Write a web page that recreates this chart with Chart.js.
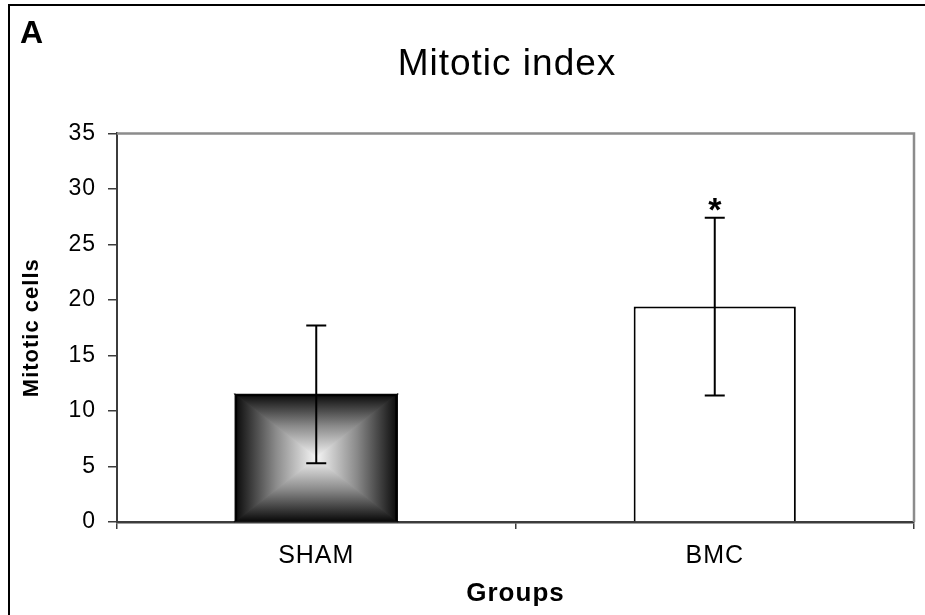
<!DOCTYPE html>
<html>
<head>
<meta charset="utf-8">
<script src="https://cdn.jsdelivr.net/npm/chart.js@4"></script>
<style>
  html, body { margin: 0; padding: 0; background: #fff; }
  #wrap { width: 925px; height: 615px; }
</style>
</head>
<body>
<div id="wrap"><canvas id="chart"></canvas></div>
<script>
// data
const groups = ['SHAM', 'BMC'];
const mitoticMeans = [11.5, 19.4];
const mitoticErrors = [6.2, 8.0];
const significance = ['', '*'];
const yMin = 0, yMax = 35, yStep = 5;

// spacing the text a bit, the original is drawn wide
function spacing(chart) {
    chart.ctx.letterSpacing = '1px';
}

const framePlugin = {
    id: 'frame',
    beforeLayout(chart) { spacing(chart); },
    beforeDraw(chart) {
        spacing(chart);
        let ctx = chart.ctx;
        ctx.save();
        ctx.fillStyle = '#fff';
        ctx.fillRect(0, 0, chart.width, chart.height);
        // outer frame (only left and top are in the picture)
        ctx.strokeStyle = '#000';
        ctx.lineWidth = 2;
        ctx.beginPath();
        ctx.moveTo(9, chart.height);
        ctx.lineTo(9, 5);
        ctx.lineTo(chart.width, 5);
        ctx.stroke();
        // panel letter
        ctx.fillStyle = '#000';
        ctx.font = 'bold 32px "Liberation Sans", Arial, sans-serif';
        ctx.textBaseline = 'alphabetic';
        ctx.letterSpacing = '0px';
        ctx.fillText('A', 20, 43);
        ctx.restore();
    },
    afterLayout(chart) {
        // title is centred over the plot, not over the whole canvas
        chart.titleBlock.left = 100;
        chart.titleBlock.right = chart.chartArea.right;
    },
    beforeDatasetsDraw(chart) {
        let ctx = chart.ctx;
        let area = chart.chartArea;
        ctx.save();
        // plot area border top/right
        ctx.strokeStyle = '#8c8c8c';
        ctx.lineWidth = 2.5;
        ctx.beginPath();
        ctx.moveTo(area.left, area.top);
        ctx.lineTo(area.right, area.top);
        ctx.lineTo(area.right, area.bottom);
        ctx.stroke();

        // SHAM bar: rectangular "from centre" gradient, 4 triangles
        let bar = chart.getDatasetMeta(0).data[0];
        let p = bar.getProps(['x', 'y', 'base', 'width'], true);
        let l = p.x - p.width / 2, r = p.x + p.width / 2, t = p.y, b = p.base;
        let cx = (l + r) / 2, cy = (t + b) / 2;
        let tris = [
            [[l, t], [r, t], l, t, l, cy],
            [[l, b], [r, b], l, b, l, cy],
            [[l, t], [l, b], l, t, cx, t],
            [[r, t], [r, b], r, t, cx, t]
        ];
        for (let tr of tris) {
            let g = ctx.createLinearGradient(tr[2], tr[3], tr[4], tr[5]);
            g.addColorStop(0, '#0a0a0a');
            g.addColorStop(0.5, '#8a8a8a');
            g.addColorStop(1, '#f6f6f6');
            ctx.fillStyle = g;
            ctx.strokeStyle = g;
            ctx.lineWidth = 1.2;
            ctx.beginPath();
            ctx.moveTo(tr[0][0], tr[0][1]);
            ctx.lineTo(tr[1][0], tr[1][1]);
            ctx.lineTo(cx, cy);
            ctx.closePath();
            ctx.fill();
            ctx.stroke();
        }
        ctx.restore();
    },
    afterDatasetsDraw(chart) {
        let ctx = chart.ctx;
        let yScale = chart.scales.y;
        let meta = chart.getDatasetMeta(0);
        ctx.save();
        ctx.strokeStyle = '#000';
        ctx.lineWidth = 2;
        meta.data.forEach((bar, i) => {
            let x = bar.getProps(['x'], true).x;
            let hi = yScale.getPixelForValue(mitoticMeans[i] + mitoticErrors[i]);
            let lo = yScale.getPixelForValue(mitoticMeans[i] - mitoticErrors[i]);
            ctx.beginPath();
            ctx.moveTo(x, hi); ctx.lineTo(x, lo);
            ctx.moveTo(x - 10, hi); ctx.lineTo(x + 10, hi);
            ctx.moveTo(x - 10, lo); ctx.lineTo(x + 10, lo);
            ctx.stroke();
            if (significance[i]) {
                ctx.fillStyle = '#000';
                ctx.font = 'bold 34px "Liberation Sans", Arial, sans-serif';
                ctx.textAlign = 'center';
                ctx.textBaseline = 'alphabetic';
                ctx.letterSpacing = '0px';
                ctx.fillText(significance[i], x, hi + 3);
            }
        });
        ctx.restore();
    }
};

const axisColor = '#3c3c3c';

let config = {
    type: 'bar',
    data: {
        labels: groups,
        datasets: [{
            data: mitoticMeans,
            backgroundColor: ['rgba(0,0,0,0)', '#ffffff'],
            borderColor: '#000',
            borderWidth: 2,
            categoryPercentage: 1,
            barPercentage: 0.407
        }]
    },
    options: {
        responsive: false,
        animation: false,
        devicePixelRatio: 1,
        layout: { padding: { left: 10, right: 11, top: 0, bottom: 0 } },
        plugins: {
            legend: { display: false },
            tooltip: { enabled: false },
            title: {
                display: true,
                text: 'Mitotic index',
                color: '#000',
                font: { family: '"Liberation Sans", Arial, sans-serif', size: 37, weight: 'normal' },
                padding: { top: 43, bottom: 46 }
            }
        },
        scales: {
            x: {
                grid: { offset: true, drawOnChartArea: false, tickLength: 7, color: axisColor, lineWidth: 1.5 },
                border: { color: axisColor, width: 2.5 },
                ticks: {
                    color: '#000',
                    padding: 12,
                    font: { family: '"Liberation Sans", Arial, sans-serif', size: 25 }
                },
                title: {
                    display: true,
                    text: 'Groups',
                    color: '#000',
                    font: { family: '"Liberation Sans", Arial, sans-serif', size: 26, weight: 'bold' },
                    padding: { top: 6, bottom: 6 }
                },
                afterFit: s => { s.height = 93; }
            },
            y: {
                min: yMin,
                max: yMax,
                grid: { drawOnChartArea: false, tickLength: 9, color: axisColor, lineWidth: 1.5 },
                border: { color: axisColor, width: 2 },
                ticks: {
                    stepSize: yStep,
                    color: '#000',
                    padding: 12,
                    font: { family: '"Liberation Sans", Arial, sans-serif', size: 23 }
                },
                title: {
                    display: true,
                    text: 'Mitotic cells',
                    color: '#000',
                    font: { family: '"Liberation Sans", Arial, sans-serif', size: 22, weight: 'bold' },
                    padding: { top: 9, bottom: 9 }
                },
                afterFit: s => { s.width = 107; }
            }
        }
    },
    plugins: [framePlugin]
};

let canvas = document.getElementById('chart');
canvas.width = 925;
canvas.height = 615;
let chart = new Chart(canvas, config);
</script>
</body>
</html>
